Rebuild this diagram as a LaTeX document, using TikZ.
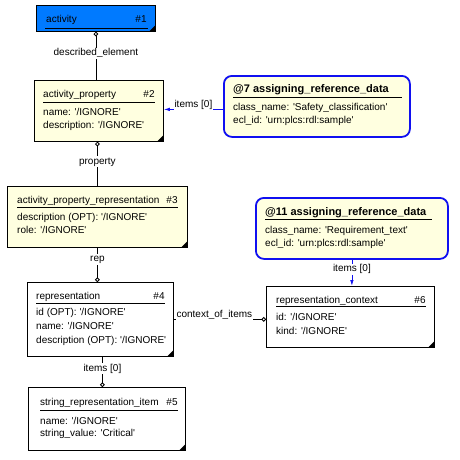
\documentclass[tikz,border=0pt]{standalone}
\usepackage{fontspec}
\setmainfont{Liberation Sans}
\usepackage{tikz}
\usetikzlibrary{positioning}
\usetikzlibrary{calc}
\usetikzlibrary{arrows.meta}
\definecolor{actblue}{RGB}{0,122,255}
\definecolor{noteyel}{RGB}{255,255,224}
\definecolor{refblue}{RGB}{16,16,240}
\newcommand{\sq}{\textquotesingle}
\tikzset{
  ent/.style={draw=black, line width=0.8pt, anchor=north west, inner sep=0pt},
  refbox/.style={draw=refblue, line width=1.8pt, rounded corners=8pt, fill=noteyel, anchor=north west, inner sep=0pt},
  txt/.style={inner sep=0pt, font=\fontsize{10}{12}\selectfont, text height=7pt, text depth=2pt},
  btxt/.style={txt, font=\fontsize{11}{13}\selectfont\bfseries},
  uline/.style={line width=0.8pt},
  rel/.style={line width=0.8pt, -{Circle[open,length=4.5pt,line width=0.8pt]}},
  refrel/.style={draw=refblue, line width=0.8pt},
  lbl/.style={fill=white, inner sep=1pt, font=\fontsize{10}{12}\selectfont, text height=7pt, text depth=2pt},
  elbl/.style={lbl, anchor=base, yshift=1.6pt},
}
\begin{document}
\begin{tikzpicture}[x=1pt, y=1pt]
\useasboundingbox (0,0) rectangle (459,-460);
%%%%%%%%%%%%%% activity #1
\node[ent, fill=actblue, minimum width=119pt, minimum height=26pt] (e1) at (36,-5) {};
\node[txt, right=10pt of e1.north west, yshift=-15.5pt] (t1) {activity};
\node[txt, left=9pt of e1.north east, yshift=-15.5pt] (n1) {\#1};
\draw[uline] ([xshift=9pt,yshift=-23pt]e1.north west) -- ([xshift=-8pt,yshift=-23pt]e1.north east);
%%%%%%%%%%%%%% activity_property #2
\node[ent, fill=noteyel, minimum width=129pt, minimum height=61pt] (e2) at (34,-80) {};
\node[txt, right=9pt of e2.north west, yshift=-15pt] (t2) {activity\_property};
\node[txt, left=9pt of e2.north east, yshift=-15pt] (n2) {\#2};
\draw[uline] ([xshift=9pt,yshift=-22pt]e2.north west) -- ([xshift=-9pt,yshift=-22pt]e2.north east);
\node[txt, right=9pt of e2.north west, yshift=-33pt] (a21) {name: \sq/IGNORE\sq};
\node[txt, right=9pt of e2.north west, yshift=-46pt] (a22) {description: \sq/IGNORE\sq};
%%%%%%%%%%%%%% @7 assigning_reference_data
\node[refbox, minimum width=186pt, minimum height=61pt] (r7) at (223,-75) {};
\node[btxt, right=10pt of r7.north west, yshift=-15pt] (t7) {@7 assigning\_reference\_data};
\draw[uline] ([xshift=10pt,yshift=-22pt]r7.north west) -- ([xshift=-9pt,yshift=-22pt]r7.north east);
\node[txt, right=10pt of r7.north west, yshift=-33pt] (a71) {class\_name: \sq Safety\_classification\sq};
\node[txt, right=10pt of r7.north west, yshift=-46pt] (a72) {ecl\_id: \sq urn:plcs:rdl:sample\sq};
%%%%%%%%%%%%%% activity_property_representation #3
\node[ent, fill=noteyel, minimum width=180pt, minimum height=61pt] (e3) at (7,-186) {};
\node[txt, right=10pt of e3.north west, yshift=-15pt] (t3) {activity\_property\_representation};
\node[txt, left=10pt of e3.north east, yshift=-15pt] (n3) {\#3};
\draw[uline] ([xshift=10pt,yshift=-21pt]e3.north west) -- ([xshift=-10pt,yshift=-21pt]e3.north east);
\node[txt, right=10pt of e3.north west, yshift=-32pt] (a31) {description (OPT): \sq/IGNORE\sq};
\node[txt, right=10pt of e3.north west, yshift=-45pt] (a32) {role: \sq/IGNORE\sq};
%%%%%%%%%%%%%% @11 assigning_reference_data
\node[refbox, minimum width=192pt, minimum height=61pt] (r11) at (255,-197) {};
\node[btxt, right=10pt of r11.north west, yshift=-16pt] (t11) {@11 assigning\_reference\_data};
\draw[uline] ([xshift=10pt,yshift=-22pt]r11.north west) -- ([xshift=-17pt,yshift=-22pt]r11.north east);
\node[txt, right=10pt of r11.north west, yshift=-34pt] (a111) {class\_name: \sq Requirement\_text\sq};
\node[txt, right=10pt of r11.north west, yshift=-47pt] (a112) {ecl\_id: \sq urn:plcs:rdl:sample\sq};
%%%%%%%%%%%%%% representation #4
\node[ent, fill=white, minimum width=146pt, minimum height=74pt] (e4) at (27,-282) {};
\node[txt, right=9pt of e4.north west, yshift=-15pt] (t4) {representation};
\node[txt, left=9pt of e4.north east, yshift=-15pt] (n4) {\#4};
\draw[uline] ([xshift=9pt,yshift=-21pt]e4.north west) -- ([xshift=-9pt,yshift=-21pt]e4.north east);
\node[txt, right=9pt of e4.north west, yshift=-31pt] (a41) {id (OPT): \sq/IGNORE\sq};
\node[txt, right=9pt of e4.north west, yshift=-45pt] (a42) {name: \sq/IGNORE\sq};
\node[txt, right=9pt of e4.north west, yshift=-59pt] (a43) {description (OPT): \sq/IGNORE\sq};
%%%%%%%%%%%%%% representation_context #6
\node[ent, fill=white, minimum width=168pt, minimum height=61pt] (e6) at (266,-286) {};
\node[txt, right=10pt of e6.north west, yshift=-15pt] (t6) {representation\_context};
\node[txt, left=9pt of e6.north east, yshift=-15pt] (n6) {\#6};
\draw[uline] ([xshift=10pt,yshift=-20pt]e6.north west) -- ([xshift=-9pt,yshift=-20pt]e6.north east);
\node[txt, right=10pt of e6.north west, yshift=-32pt] (a61) {id: \sq/IGNORE\sq};
\node[txt, right=10pt of e6.north west, yshift=-46pt] (a62) {kind: \sq/IGNORE\sq};
%%%%%%%%%%%%%% string_representation_item #5
\node[ent, fill=white, minimum width=157pt, minimum height=63pt] (e5) at (28,-387) {};
\node[txt, right=12pt of e5.north west, yshift=-16pt] (t5) {string\_representation\_item};
\node[txt, left=8pt of e5.north east, yshift=-16pt] (n5) {\#5};
\draw[uline] ([xshift=12pt,yshift=-23pt]e5.north west) -- ([xshift=-8pt,yshift=-23pt]e5.north east);
\node[txt, right=12pt of e5.north west, yshift=-35pt] (a51) {name: \sq/IGNORE\sq};
\node[txt, right=12pt of e5.north west, yshift=-47pt] (a52) {string\_value: \sq Critical\sq};
%%%%%%%%%%%%%% corners
\foreach \e in {e1,e2,e3,e4,e5,e6}
  \fill ([xshift=-7pt]\e.south east) -- (\e.south east) -- ([yshift=7pt]\e.south east) -- cycle;
%%%%%%%%%%%%%% relations
\coordinate[right=2pt of e4.south] (r45);
\coordinate[above=1.5pt of e2.east] (r27);
\draw[rel] (e1.south |- e2.north) -- node[lbl, pos=0.55] {described\_element} (e1.south);
\draw[rel] (e3.north) -- node[lbl, pos=0.55] {property} (e3.north |- e2.south);
\draw[rel] (e3.south) -- node[lbl, pos=0.34] {rep} (e3.south |- e4.north);
\draw[rel] (r45) -- node[lbl, pos=0.39] {items [0]} (r45 |- e5.north);
\draw[rel] (e4.east) -- node[elbl, pos=0.44] {context\_of\_items} (e4.east -| e6.west);
\draw[refrel, {Latex[length=6pt,width=3.5pt]}-] (r27) -- node[elbl] {items [0]} (r27 -| r7.west);
\draw[refrel, -{Latex[length=6pt,width=3.5pt]}] (r11.south) -- node[lbl, pos=0.36] {items [0]} (r11.south |- e6.north);
\end{tikzpicture}
\end{document}
